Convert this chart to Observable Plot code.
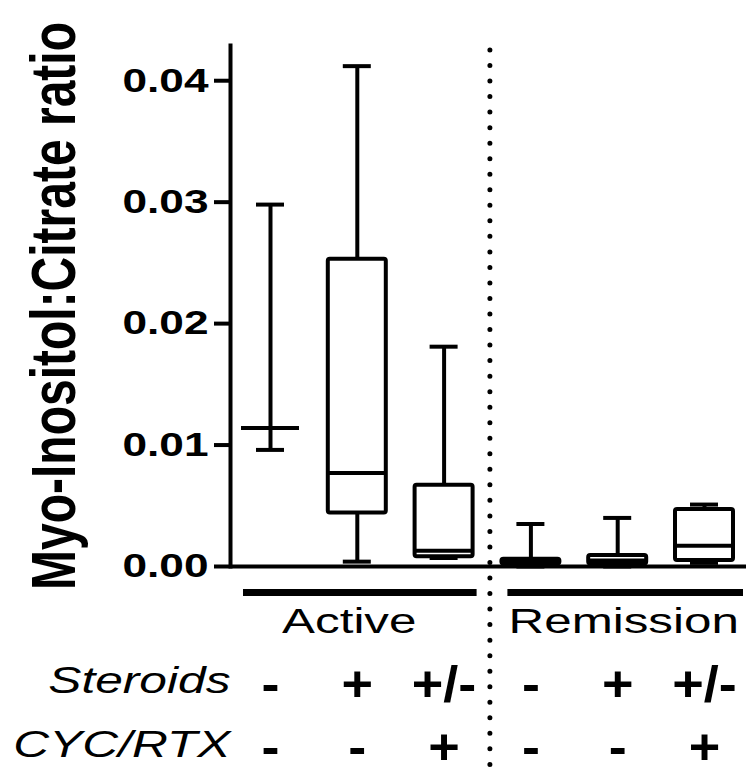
<!DOCTYPE html>
<html><head><meta charset="utf-8">
<script src="https://cdn.jsdelivr.net/npm/d3@7"></script>
<script src="https://cdn.jsdelivr.net/npm/@observablehq/plot@0.6"></script>
<style>html,body{margin:0;padding:0;background:#fff} svg{display:block}</style>
</head><body><div id="chart"></div>
<script>
// ---- data ----
const categories = ["Active S- C-","Active S+ C-","Active S± C+","Remission S- C-","Remission S+ C-","Remission S± C+"];
const mins    = [0.0096, 0.0004, 0.0007, 0.0000, 0.0000, 0.0003];
const q1s     = [0.0114, 0.0044, 0.0008, 0.0002, 0.0002, 0.0005];
const medians = [0.0114, 0.0077, 0.0013, 0.0004, 0.0005, 0.0017];
const q3s     = [0.0114, 0.0253, 0.0067, 0.0006, 0.0009, 0.0047];
const maxs    = [0.0298, 0.0412, 0.0181, 0.0035, 0.0040, 0.0051];
const steroids = ["-","+","+/-","-","+","+/-"];
const cycRtx   = ["-","-","+","-","-","+"];
const states = ["Active","Remission"];
const stateFirst = [categories[0], categories[3]];
const stateLast  = [categories[2], categories[5]];
const stateMid   = [categories[1], categories[4]];
const yTicks = [0, 0.01, 0.02, 0.03, 0.04];
const yTitle = "Myo-Inositol:Citrate ratio";
const rowLabels = ["Steroids","CYC/RTX"];

const boxes = categories.map((c, i) => ({c, min: mins[i], q1: q1s[i], med: medians[i], q3: q3s[i], max: maxs[i], s: steroids[i], r: cycRtx[i]}));
const groups = states.map((s, i) => ({s, first: stateFirst[i], last: stateLast[i], mid: stateMid[i]}));

const chart = Plot.plot({
  width: 746, height: 774,
  marginLeft: 230, marginRight: 2, marginTop: 45, marginBottom: 208,
  style: {fontFamily: "'Liberation Sans', Arial, sans-serif", color: "black", background: "white"},
  x: {type: "band", domain: categories, paddingInner: 0.3318, paddingOuter: 0.1267, round: false, axis: null, label: null},
  y: {domain: [0, 0.0429], axis: null, label: null},
  marks: [
    Plot.frame({anchor: "left", strokeWidth: 4}),
    Plot.ruleY([0], {strokeWidth: 4, insetRight: -2}),
    Plot.axisY(yTicks, {tickSize: 16, tickPadding: 6, tickFormat: d3.format(".2f"), fontSize: 34, fontWeight: "bold", strokeWidth: 4, label: null}),
    // whiskers
    Plot.ruleX(boxes, {x: "c", y1: "min", y2: "q1", strokeWidth: 4}),
    Plot.ruleX(boxes, {x: "c", y1: "q3", y2: "max", strokeWidth: 4}),
    Plot.tickY(boxes, {x: "c", y: "min", strokeWidth: 4, insetLeft: 15, insetRight: 15}),
    Plot.tickY(boxes, {x: "c", y: "max", strokeWidth: 4, insetLeft: 15, insetRight: 15}),
    // boxes
    Plot.barY(boxes, {x: "c", y1: "q1", y2: "q3", fill: "white", stroke: "black", strokeWidth: 4, strokeLinejoin: "round", rx: 2}),
    Plot.tickY(boxes, {x: "c", y: "med", strokeWidth: 4}),
    // dotted separator
    Plot.ruleX([categories[3]], {x: d => d, dx: -41, strokeWidth: 5, strokeDasharray: "0 15.53", strokeLinecap: "round", insetTop: 5, insetBottom: -208}),
    // group bars
    Plot.ruleY(groups.slice(0, 1), {x1: "first", x2: "last", y: () => 0, dy: 26, dx: 2, insetRight: -2, strokeWidth: 7}),
    Plot.ruleY(groups.slice(1, 2), {x1: "first", x2: "last", y: () => 0, dy: 26, dx: 6, insetRight: -4, strokeWidth: 7}),
    // group names
    Plot.text(groups.slice(0, 1), {x: "mid", text: "s", frameAnchor: "bottom", dy: 66, dx: -8, lineAnchor: "bottom", fontSize: 35}),
    Plot.text(groups.slice(1, 2), {x: "mid", text: "s", frameAnchor: "bottom", dy: 66, dx: 6, lineAnchor: "bottom", fontSize: 35}),
    // treatment rows
    Plot.text([rowLabels[0]], {text: d => d, frameAnchor: "bottom-left", dx: 0, dy: 126, textAnchor: "end", lineAnchor: "bottom", fontSize: 36, fontStyle: "italic"}),
    Plot.text([rowLabels[1]], {text: d => d, frameAnchor: "bottom-left", dx: 0, dy: 190, textAnchor: "end", lineAnchor: "bottom", fontSize: 36, fontStyle: "italic"}),
    Plot.text(boxes, {x: "c", text: "s", frameAnchor: "bottom", dy: 134, lineAnchor: "bottom", fontSize: 50, fontWeight: "bold"}),
    Plot.text(boxes, {x: "c", text: "r", frameAnchor: "bottom", dy: 197, lineAnchor: "bottom", fontSize: 50, fontWeight: "bold"}),
    // y title
    Plot.text([yTitle], {text: d => d, frameAnchor: "left", dx: -156, rotate: -90, textAnchor: "middle", lineAnchor: "bottom", fontSize: 48, fontWeight: "bold"})
  ]
});

// horizontal glyph stretch of the original artwork, per text size
const stretch = {34: [1.3, 1], 35: [1.41, 1], 36: [1.38, 1], 48: [1, 1.3], 50: [1.08, 1]};
chart.querySelectorAll("text").forEach(t => {
  const g = t.parentNode.closest("[font-size]");
  if (!g) return;
  const s = stretch[parseFloat(g.getAttribute("font-size"))];
  if (!s) return;
  const tr = t.getAttribute("transform") || "";
  t.setAttribute("transform", `${tr} scale(${s[0]},${s[1]})`);
});
document.getElementById("chart").appendChild(chart);
</script>
</body></html>
